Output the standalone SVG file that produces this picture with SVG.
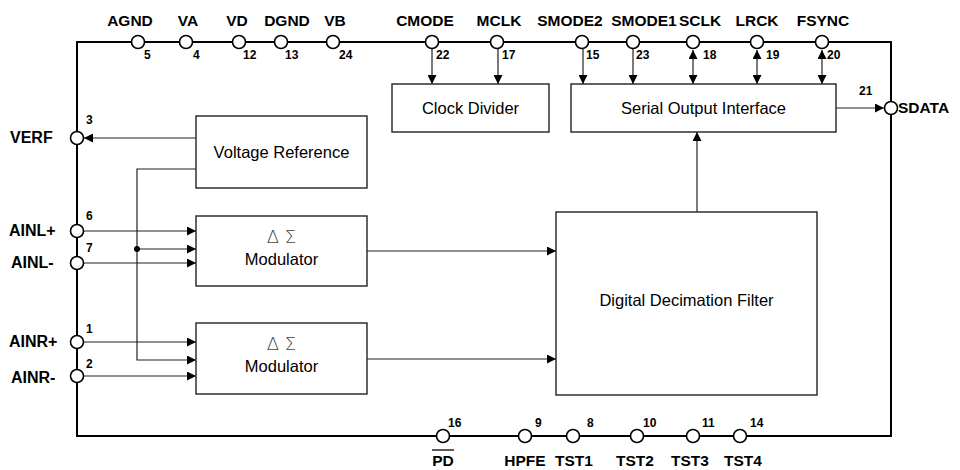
<svg xmlns="http://www.w3.org/2000/svg" width="960" height="470" viewBox="0 0 960 470">
<defs>
<marker id="ah" viewBox="0 0 10 10" refX="10" refY="5" markerWidth="10" markerHeight="9" markerUnits="userSpaceOnUse" orient="auto-start-reverse">
<path d="M0,0 L10,5 L0,10 Z" fill="#000"/>
</marker>
<style>
.lbl{font-family:"Liberation Sans",Arial,sans-serif;font-weight:bold;font-size:15.5px;fill:#000}
.side{font-size:16px}
.num{font-family:"Liberation Sans",Arial,sans-serif;font-weight:bold;font-size:12px;fill:#000}
.box{fill:#fff;stroke:#222;stroke-width:1.4}
.btxt{font-family:"Liberation Sans",Arial,sans-serif;font-size:16.5px;fill:#000;text-anchor:middle}
.sym{font-family:"DejaVu Sans",sans-serif;font-size:18px;fill:#444;text-anchor:middle;font-weight:200}
.pin{fill:#fff;stroke:#000;stroke-width:1.6}
.frame{fill:none;stroke:#000;stroke-width:2}
.wire{fill:none;stroke:#222;stroke-width:1.2}
.arr{marker-end:url(#ah)}
.bi{marker-start:url(#ah);marker-end:url(#ah)}
</style>
</defs>
<rect width="960" height="470" fill="#fff"/>
<path class="frame" d="M77,42 H891 V436 H77 Z"/>

<g id="connectors">
<line class="wire arr" x1="432" y1="49" x2="432" y2="84"/>
<line class="wire arr" x1="498" y1="49" x2="498" y2="84"/>
<line class="wire arr" x1="583" y1="49" x2="583" y2="84"/>
<line class="wire arr" x1="633" y1="49" x2="633" y2="84"/>
<line class="wire bi" x1="693" y1="50" x2="693" y2="84"/>
<line class="wire bi" x1="757" y1="50" x2="757" y2="84"/>
<line class="wire bi" x1="822" y1="50" x2="822" y2="84"/>
<line class="wire arr" x1="836" y1="108" x2="884" y2="108"/>
<line class="wire arr" x1="196" y1="138" x2="84" y2="138"/>
<path class="wire arr" d="M196,169 H137 V360 H196"/>
<line class="wire arr" x1="137" y1="249" x2="196" y2="249"/>
<circle cx="137" cy="249" r="3" fill="#000"/>
<line class="wire arr" x1="84" y1="231" x2="196" y2="231"/>
<line class="wire arr" x1="84" y1="263" x2="196" y2="263"/>
<line class="wire arr" x1="84" y1="342" x2="196" y2="342"/>
<line class="wire arr" x1="84" y1="376" x2="196" y2="376"/>
<line class="wire arr" x1="367" y1="251" x2="556" y2="251"/>
<line class="wire arr" x1="367" y1="359" x2="556" y2="359"/>
<line class="wire arr" x1="697" y1="212" x2="697" y2="132"/>
</g>

<g id="clock-divider"><rect class="box" x="392" y="84" width="157" height="48"/><text class="btxt" x="470.5" y="114">Clock Divider</text></g>
<g id="serial-output-interface"><rect class="box" x="571" y="84" width="265" height="48"/><text class="btxt" x="703.5" y="114">Serial Output Interface</text></g>
<g id="voltage-reference"><rect class="box" x="196" y="116" width="171" height="72"/><text class="btxt" x="281.5" y="158">Voltage Reference</text></g>
<g id="modulator-l"><rect class="box" x="196" y="216" width="171" height="70"/><text class="sym" x="281.5" y="243">Δ Σ</text><text class="btxt" x="281.5" y="265">Modulator</text></g>
<g id="modulator-r"><rect class="box" x="196" y="323" width="171" height="71"/><text class="sym" x="281.5" y="350">Δ Σ</text><text class="btxt" x="281.5" y="372">Modulator</text></g>
<g id="digital-decimation-filter"><rect class="box" x="556" y="212" width="261" height="183"/><text class="btxt" x="686.5" y="306">Digital Decimation Filter</text></g>

<g id="pin-agnd"><circle class="pin" cx="138" cy="42" r="6.5"/><text class="lbl" x="130" y="26" text-anchor="middle">AGND</text><text class="num" x="144" y="59">5</text></g>
<g id="pin-va"><circle class="pin" cx="186" cy="42" r="6.5"/><text class="lbl" x="188" y="26" text-anchor="middle">VA</text><text class="num" x="193" y="59">4</text></g>
<g id="pin-vd"><circle class="pin" cx="239" cy="42" r="6.5"/><text class="lbl" x="237" y="26" text-anchor="middle">VD</text><text class="num" x="243" y="59">12</text></g>
<g id="pin-dgnd"><circle class="pin" cx="281" cy="42" r="6.5"/><text class="lbl" x="287" y="26" text-anchor="middle">DGND</text><text class="num" x="285" y="59">13</text></g>
<g id="pin-vb"><circle class="pin" cx="333" cy="42" r="6.5"/><text class="lbl" x="335" y="26" text-anchor="middle">VB</text><text class="num" x="339" y="59">24</text></g>
<g id="pin-cmode"><circle class="pin" cx="432" cy="42" r="6.5"/><text class="lbl" x="425" y="26" text-anchor="middle">CMODE</text><text class="num" x="436" y="59">22</text></g>
<g id="pin-mclk"><circle class="pin" cx="497" cy="42" r="6.5"/><text class="lbl" x="499" y="26" text-anchor="middle">MCLK</text><text class="num" x="502" y="59">17</text></g>
<g id="pin-smode2"><circle class="pin" cx="582" cy="42" r="6.5"/><text class="lbl" x="570" y="26" text-anchor="middle">SMODE2</text><text class="num" x="586" y="59">15</text></g>
<g id="pin-smode1"><circle class="pin" cx="633" cy="42" r="6.5"/><text class="lbl" x="644" y="26" text-anchor="middle">SMODE1</text><text class="num" x="636" y="59">23</text></g>
<g id="pin-sclk"><circle class="pin" cx="693" cy="42" r="6.5"/><text class="lbl" x="700" y="26" text-anchor="middle">SCLK</text><text class="num" x="703" y="59">18</text></g>
<g id="pin-lrck"><circle class="pin" cx="757" cy="42" r="6.5"/><text class="lbl" x="757" y="26" text-anchor="middle">LRCK</text><text class="num" x="766" y="59">19</text></g>
<g id="pin-fsync"><circle class="pin" cx="822" cy="42" r="6.5"/><text class="lbl" x="823" y="26" text-anchor="middle">FSYNC</text><text class="num" x="827" y="59">20</text></g>

<g id="pin-sdata"><circle class="pin" cx="891" cy="108" r="6.5"/><text class="lbl" x="898" y="113">SDATA</text><text class="num" x="859" y="95">21</text></g>

<g id="pin-verf"><circle class="pin" cx="77" cy="138" r="6.5"/><text class="lbl side" x="10" y="143">VERF</text><text class="num" x="86" y="124">3</text></g>
<g id="pin-ainl-p"><circle class="pin" cx="77" cy="231" r="6.5"/><text class="lbl side" x="9" y="236">AINL+</text><text class="num" x="86" y="220">6</text></g>
<g id="pin-ainl-m"><circle class="pin" cx="77" cy="263" r="6.5"/><text class="lbl side" x="11" y="268">AINL-</text><text class="num" x="86" y="252">7</text></g>
<g id="pin-ainr-p"><circle class="pin" cx="77" cy="342" r="6.5"/><text class="lbl side" x="9" y="347">AINR+</text><text class="num" x="86" y="333">1</text></g>
<g id="pin-ainr-m"><circle class="pin" cx="77" cy="376" r="6.5"/><text class="lbl side" x="11" y="383">AINR-</text><text class="num" x="86" y="368">2</text></g>

<g id="pin-pd"><circle class="pin" cx="443" cy="436" r="6.5"/><text class="lbl" x="443" y="466" text-anchor="middle">PD</text><line x1="432" y1="450" x2="454" y2="450" stroke="#000" stroke-width="1.3"/><text class="num" x="448" y="427">16</text></g>
<g id="pin-hpfe"><circle class="pin" cx="525" cy="436" r="6.5"/><text class="lbl" x="525" y="466" text-anchor="middle">HPFE</text><text class="num" x="535" y="427">9</text></g>
<g id="pin-tst1"><circle class="pin" cx="573" cy="436" r="6.5"/><text class="lbl" x="574" y="466" text-anchor="middle">TST1</text><text class="num" x="587" y="427">8</text></g>
<g id="pin-tst2"><circle class="pin" cx="637" cy="436" r="6.5"/><text class="lbl" x="635" y="466" text-anchor="middle">TST2</text><text class="num" x="643" y="427">10</text></g>
<g id="pin-tst3"><circle class="pin" cx="693" cy="436" r="6.5"/><text class="lbl" x="690" y="466" text-anchor="middle">TST3</text><text class="num" x="702" y="427">11</text></g>
<g id="pin-tst4"><circle class="pin" cx="740" cy="436" r="6.5"/><text class="lbl" x="743" y="466" text-anchor="middle">TST4</text><text class="num" x="750" y="427">14</text></g>
</svg>
